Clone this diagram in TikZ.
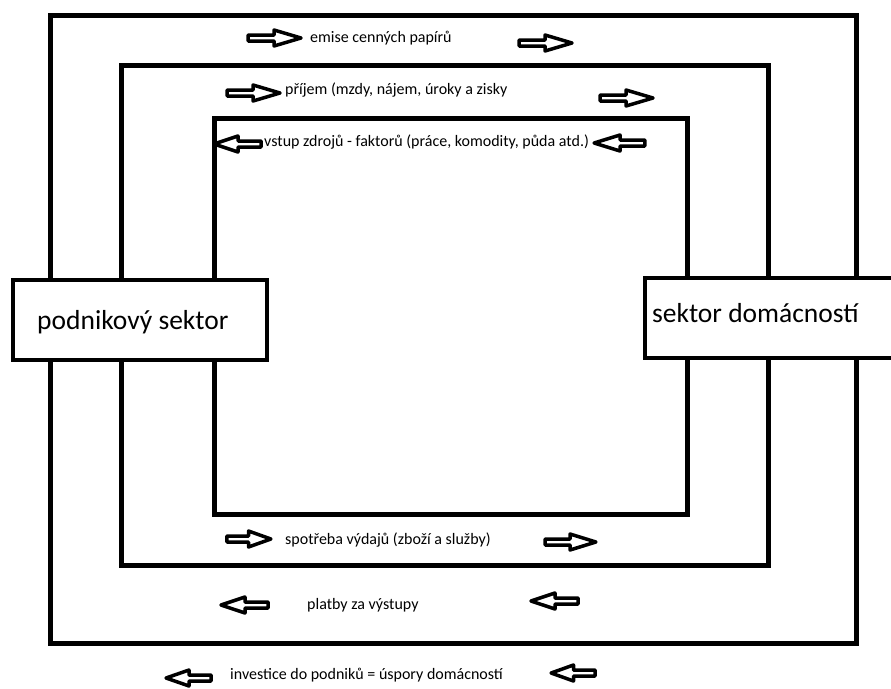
\documentclass[tikz,border=0pt]{standalone}
\usepackage{fontspec}
\setmainfont{Carlito}
\begin{document}
\begin{tikzpicture}[x=1pt,y=-1pt,
  loop/.style={draw,line width=5pt},
  sector/.style={draw,line width=4pt,fill=white},
  lbl/.style={anchor=west,inner sep=0pt,font=\fontsize{16}{19}\selectfont},
  big/.style={anchor=west,inner sep=0pt,font=\fontsize{27.5}{32}\selectfont},
  rarr/.pic={\draw[line width=3.5pt,fill=white,line join=round]
     (-26,-3) -- (0,-3) -- (0,-8) -- (27,0) -- (0,8) -- (0,3) -- (-26,3) -- cycle;}
]
\clip (0,0) rectangle (891,688);
\fill[white] (0,0) rectangle (891,688);
% circular flow loops
\draw[loop] (50,15) rectangle (856,643);
\draw[loop] (121,65) rectangle (768,565);
\draw[loop] (214,118) rectangle (687,514);
% sectors
\draw[sector] (13,280) rectangle (267,360);
\node[big] (firms) at (37,322) {podnikový sektor};
\draw[sector] (645,278) rectangle (905,358);
\node[big] (households) at (652,313) {sektor domácností};
% arrows
\pic at (274,38) {rarr};
\pic at (545,43) {rarr};
\pic at (253,93) {rarr};
\pic at (626,98) {rarr};
\pic[xscale=-0.89] at (238,144) {rarr};
\pic[xscale=-0.96] at (620,143) {rarr};
\pic[xscale=0.83] at (248.5,539) {rarr};
\pic[xscale=0.96] at (570,542) {rarr};
\pic[xscale=-0.89] at (245,605) {rarr};
\pic[xscale=-0.89] at (555,601) {rarr};
\pic[xscale=-0.85] at (189,678) {rarr};
\pic[xscale=-0.83] at (573.5,673) {rarr};
% labels
\node[lbl] (l1) at (310,38) {emise cenných papírů};
\node[lbl] (l2) at (285,90) {příjem (mzdy, nájem, úroky a zisky};
\node[lbl] (l3) at (264,142) {vstup zdrojů - faktorů (práce, komodity, půda atd.)};
\node[lbl] (l4) at (285,540) {spotřeba výdajů (zboží a služby)};
\node[lbl] (l5) at (307,605) {platby za výstupy};
\node[lbl] (l6) at (230,675) {investice do podniků = úspory domácností};
\end{tikzpicture}
\end{document}
